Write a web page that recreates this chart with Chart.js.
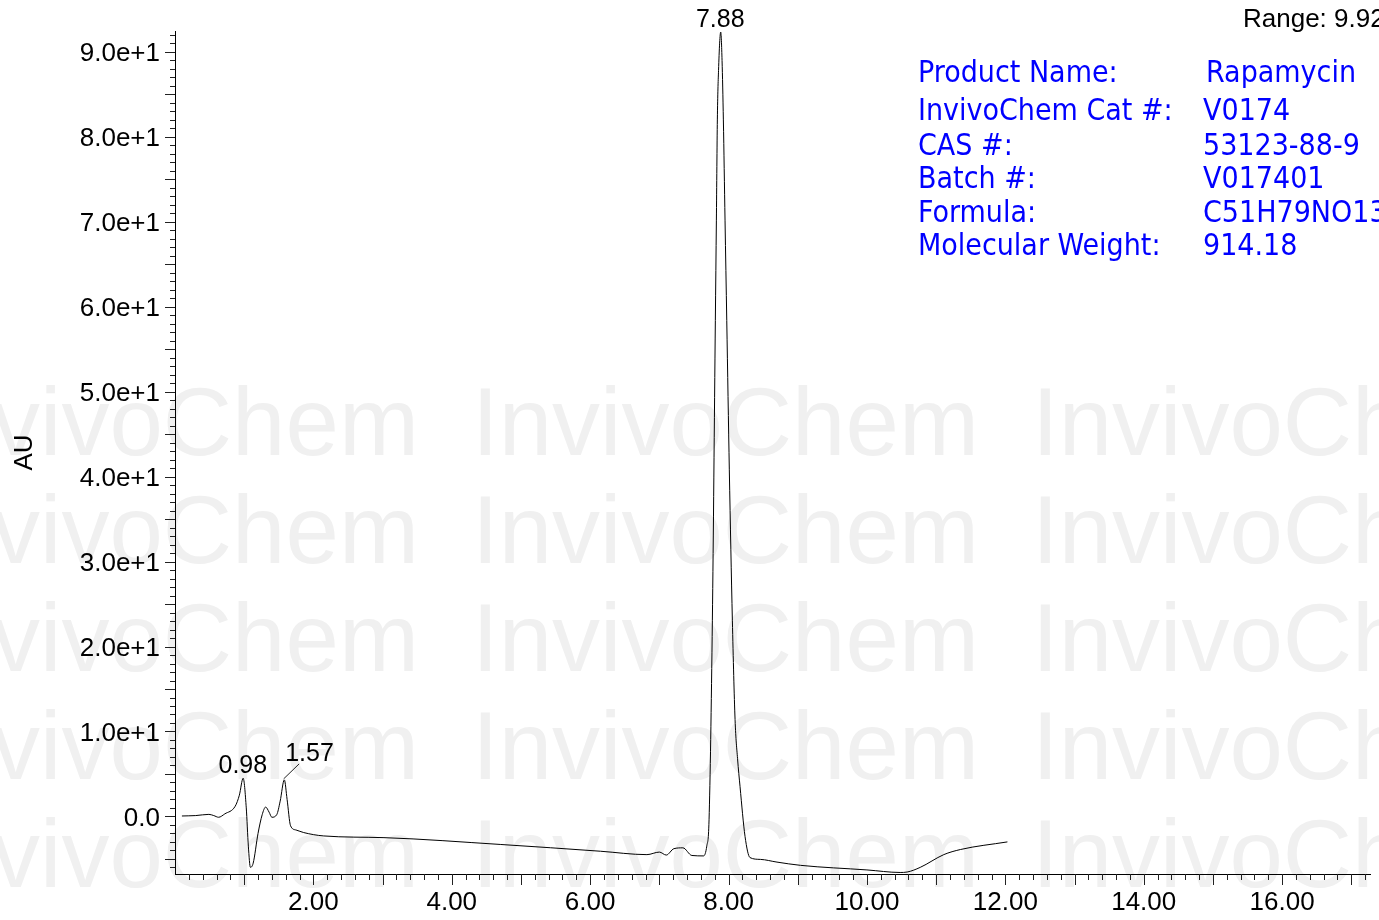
<!DOCTYPE html>
<html>
<head>
<meta charset="utf-8">
<script src="https://cdn.jsdelivr.net/npm/chart.js@4.4.1/dist/chart.umd.min.js"></script>
<style>
    html, body { margin: 0; padding: 0; background: #fff; }
    #wrap { width: 1379px; height: 920px; position: relative; }
</style>
</head>
<body>
<div id="wrap"><canvas id="hplcChart"></canvas></div>
<script>
// retention time (min) and detector response (AU)
const retentionTimes = [
    0.10, 0.30, 0.49, 0.56, 0.63, 0.72, 0.87, 0.93, 0.985, 1.03, 1.06, 1.09, 1.13, 1.20, 1.26,
    1.31, 1.36, 1.40, 1.47, 1.52, 1.58, 1.62, 1.67, 1.75, 1.86, 2.15, 3.02, 4.70, 6.15, 6.82,
    7.00, 7.10, 7.21, 7.34, 7.47, 7.64, 7.685, 7.718, 7.766, 7.809, 7.824, 7.838, 7.855, 7.887,
    7.906, 7.925, 7.949, 7.974, 8.011, 8.055, 8.094, 8.13, 8.166, 8.238, 8.31, 8.46, 8.70, 9.04, 10.0,
    10.48, 10.58, 10.77, 11.11, 11.35, 12.03
];
const absorbance = [
    0.05, 0.1, 0.24, 0.1, -0.1, 0.3, 1.2, 2.5, 4.5, 1.0, -3.5, -6.0, -5.5, -2.0, 0.2,
    1.1, 0.5, -0.1, 0.2, 1.8, 4.3, 2.0, -1.1, -1.6, -1.9, -2.3, -2.5, -3.3, -4.1, -4.5,
    -4.2, -4.55, -3.8, -3.7, -4.6, -4.65, -3.5, -0.4, 23.1, 58.4, 70.2, 82.0, 87.8, 92.35,
    89.0, 82.0, 70.2, 58.4, 40.8, 23.1, 11.4, 6.8, 3.5, -2.35, -4.85, -5.06, -5.38, -5.76, -6.3,
    -6.6, -6.55, -6.0, -4.5, -3.9, -3.0
];

const peakTimes = [0.98, 1.57, 7.88];
const peakHeights = [4.5, 4.3, 92.35];

const xTickValues = [2, 4, 6, 8, 10, 12, 14, 16];
const yTickValues = [0, 10, 20, 30, 40, 50, 60, 70, 80, 90];

const infoLabels = ['Product Name:', 'InvivoChem Cat #:', 'CAS #:', 'Batch #:', 'Formula:', 'Molecular Weight:'];
const infoValues = ['Rapamycin', 'V0174', '53123-88-9', 'V017401', 'C51H79NO13', '914.18'];
const rangeText = 'Range: 9.925e+1';

const ARIAL = '"Liberation Sans", Arial, sans-serif';

// faint watermark behind the plot
const watermarkPlugin = {
    id: 'watermark',
    beforeDraw(chart) {
        const ctx = chart.ctx;
        ctx.save();
        ctx.fillStyle = '#f0f0f0';
        ctx.font = '96px ' + ARIAL;
        ctx.textBaseline = 'alphabetic';
        ctx.textAlign = 'left';
        [455, 563, 671, 779, 887].forEach(function(y) {
            [-88, 472, 1032].forEach(function(x) {
                ctx.fillText('InvivoChem', x, y);
            });
        });
        ctx.restore();
    }
};

// minor/major tick marks, peak labels and the product box
const annotationsPlugin = {
    id: 'annotations',
    afterDraw(chart) {
        const ctx = chart.ctx;
        const xs = chart.scales.x;
        const ys = chart.scales.y;
        const area = chart.chartArea;

        ctx.save();
        ctx.strokeStyle = '#222';
        ctx.lineWidth = 1;
        ctx.beginPath();
        for (let v = -6; v <= 92; v++) {
            const py = Math.round(ys.getPixelForValue(v)) + 0.5;
            const len = (v % 5 === 0) ? 10 : 5;
            ctx.moveTo(area.left - len, py);
            ctx.lineTo(area.left, py);
        }
        for (let i = 1; i <= 86; i++) {
            const v = i * 0.2;
            const px = Math.round(xs.getPixelForValue(v)) + 0.5;
            const len = (i % 5 === 0) ? 11 : 6;
            ctx.moveTo(px, area.bottom);
            ctx.lineTo(px, area.bottom + len);
        }
        ctx.stroke();

        // peak labels
        ctx.fillStyle = '#000';
        ctx.font = '25px ' + ARIAL;
        ctx.textBaseline = 'alphabetic';
        peakTimes.forEach(function(t, i) {
            const px = xs.getPixelForValue(t);
            const py = ys.getPixelForValue(peakHeights[i]);
            if (i === 1) {
                ctx.beginPath();
                ctx.moveTo(px, py - 1);
                ctx.lineTo(px + 15.5, py - 16);
                ctx.stroke();
                ctx.textAlign = 'left';
                ctx.fillText(t.toFixed(2), px + 1.5, py - 19);
            } else {
                ctx.textAlign = 'center';
                ctx.fillText(t.toFixed(2), px, py - 5.5);
            }
        });

        ctx.textAlign = 'left';
        ctx.font = '26px ' + ARIAL;
        ctx.fillText(rangeText, 1243, 27);

        // product info
        ctx.fillStyle = '#0000ff';
        ctx.font = '30px "DejaVu Sans Condensed", "DejaVu Sans", sans-serif';
        const rows = [82, 120, 155, 188, 222, 255];
        infoLabels.forEach(function(lbl, i) {
            ctx.fillText(lbl, 918, rows[i]);
            ctx.fillText(infoValues[i], i === 0 ? 1206 : 1203, rows[i]);
        });
        ctx.restore();
    }
};

const ctx = document.getElementById('hplcChart').getContext('2d');
const hplcChart = new Chart(ctx, {
    type: 'line',
    data: {
        datasets: [{
            data: retentionTimes.map((t, i) => ({ x: t, y: absorbance[i] })),
            borderColor: '#000',
            borderWidth: 1,
            pointRadius: 0,
            fill: false,
            cubicInterpolationMode: 'monotone'
        }]
    },
    options: {
        responsive: true,
        maintainAspectRatio: false,
        animation: false,
        events: [],
        layout: { padding: { top: 31, right: 9, left: 0, bottom: 0 } },
        plugins: { legend: { display: false }, tooltip: { enabled: false } },
        scales: {
            x: {
                type: 'linear',
                min: 0,
                max: 17.27,
                afterBuildTicks: s => { s.ticks = xTickValues.map(v => ({ value: v })); },
                afterFit: s => { s.height = 46; },
                grid: { display: false, drawTicks: false },
                border: { display: true, color: '#000', width: 1 },
                ticks: {
                    color: '#000',
                    font: { family: ARIAL, size: 26 },
                    padding: 13,
                    maxRotation: 0,
                    autoSkip: false,
                    callback: v => Number(v).toFixed(2)
                }
            },
            y: {
                type: 'linear',
                min: -6.78,
                max: 92.47,
                afterBuildTicks: s => { s.ticks = yTickValues.map(v => ({ value: v })); },
                afterFit: s => { s.width = 175; },
                grid: { display: false, drawTicks: false },
                border: { display: true, color: '#000', width: 1 },
                title: { display: true, text: 'AU', color: '#000', font: { family: ARIAL, size: 26 }, padding: { top: 9, bottom: 0 } },
                ticks: {
                    color: '#000',
                    font: { family: ARIAL, size: 26 },
                    padding: 15,
                    labelOffset: 2,
                    autoSkip: false,
                    callback: v => v === 0 ? '0.0' : Number(v).toExponential(1)
                }
            }
        }
    },
    plugins: [watermarkPlugin, annotationsPlugin]
});
</script>
</body>
</html>
